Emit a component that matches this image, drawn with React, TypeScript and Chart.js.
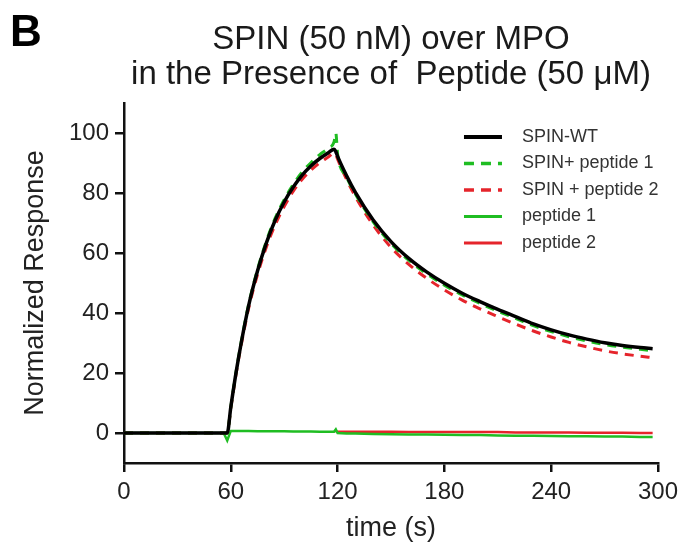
import React, { useEffect, useRef } from "react";
import { Chart, registerables } from "chart.js";

Chart.register(...registerables);

// ---------- data ----------
const timeS = [
  0, 10, 20, 30, 40, 50, 56, 58, 60, 63, 66, 70, 75, 80, 85, 90, 95, 100, 105, 110, 115, 118, 119, 120,
  125, 130, 140, 150, 160, 170, 180, 190, 200, 210, 220, 230, 240, 250, 260, 270, 280, 290, 297,
];

const spinWT = [
  0, 0, 0, 0, 0, 0, 0, 0, 8.6, 20.3, 30.5, 42.4, 54, 63.4, 71, 77, 81.9, 85.9, 89, 91.5, 93.5, 94.6, 93.8, 92.2,
  85.8, 80.2, 71, 63.8, 58.2, 53.7, 49.9, 46.6, 43.8, 41.2, 38.8, 36.4, 34.4, 32.7, 31.3, 30.1, 29.2, 28.5, 28.1,
];

const spinPeptide1 = [
  0, 0, 0, 0, 0, 0, 0, 0, 8.6, 20.5, 30.8, 42.8, 54.5, 64, 71.7, 77.8, 82.8, 86.9, 90.1, 92.8, 95, 97, 100, 93,
  85.4, 79.7, 70.4, 63.2, 57.6, 53.1, 49.3, 46, 43.2, 40.6, 38.2, 35.8, 33.8, 32.1, 30.7, 29.5, 28.6, 27.9, 27.4,
];

const spinPeptide2 = [
  0, 0, 0, 0, 0, 0, 0, 0, 8.2, 19.8, 29.8, 41.5, 52.8, 62, 69.5, 75.5, 80.5, 84.5, 87.6, 90.1, 92.1, 93.3, 92.8, 91.3,
  84.6, 78.8, 69.3, 61.9, 56.2, 51.6, 47.7, 44.3, 41.4, 38.8, 36.3, 34, 32, 30.2, 28.7, 27.4, 26.4, 25.6, 25.1,
];

const peptide1 = [
  0, 0, 0, 0, 0, 0, 0, -2.5, 0.7, 0.7, 0.7, 0.7, 0.6, 0.6, 0.6, 0.6, 0.5, 0.5, 0.5, 0.4, 0.4, 0.4, 1.2, 0,
  -0.2, -0.2, -0.3, -0.4, -0.5, -0.5, -0.6, -0.7, -0.7, -0.8, -0.9, -0.9, -1.0, -1.1, -1.1, -1.2, -1.2, -1.3, -1.3,
];

const peptide2 = [
  null, null, null, null, null, null, null, null, null, null, null, null, null, null, null, null, null, null, null, null, null, null, 0.6, 0.4,
  0.4, 0.4, 0.4, 0.4, 0.3, 0.3, 0.3, 0.3, 0.3, 0.3, 0.2, 0.2, 0.2, 0.2, 0.1, 0.1, 0.1, 0.0, 0.0,
];

const seriesLabels = ["SPIN-WT", "SPIN+ peptide 1", "SPIN + peptide 2", "peptide 1", "peptide 2"];
const xTickValues = [0, 60, 120, 180, 240, 300];
const yTickValues = [0, 20, 40, 60, 80, 100];
const titleLines = ["SPIN (50 nM) over MPO", "in the Presence of  Peptide (50 \u03bcM)"];
const panelLabel = "B";
const xAxisTitle = "time (s)";
const yAxisTitle = "Normalized Response";

// ---------- styling ----------
const W = 684;
const H = 547;
const FONT = "'Liberation Sans', Arial, Helvetica, sans-serif";
const BLACK = "#000000";
const GREEN = "#1fbd22";
const RED = "#e5242b";

const toPoints = (vals: (number | null)[]) => timeS.map((t, i) => ({ x: t, y: vals[i] }));

const overlayPlugin = {
  id: "overlay",
  afterDraw(chart: any) {
    const ctx: CanvasRenderingContext2D = chart.ctx;
    const area = chart.chartArea;
    ctx.save();
    // panel letter
    ctx.fillStyle = "#000";
    ctx.font = `bold 44px ${FONT}`;
    ctx.textAlign = "left";
    ctx.textBaseline = "alphabetic";
    ctx.fillText(panelLabel, 10, 46);
    // title
    ctx.fillStyle = "#1a1a1a";
    ctx.font = `33px ${FONT}`;
    ctx.textAlign = "center";
    ctx.textBaseline = "middle";
    const cx = (area.left + area.right) / 2;
    titleLines.forEach((t, i) => ctx.fillText(t, cx, 40 + i * 35));
    // legend
    const lx0 = area.right - 194;
    const lx1 = area.right - 156;
    const tx = area.right - 136;
    chart.data.datasets.forEach((ds: any, i: number) => {
      const y = area.top + 34 + i * 26.5;
      ctx.beginPath();
      ctx.strokeStyle = ds.borderColor;
      ctx.lineWidth = ds.borderWidth + 0.5;
      ctx.setLineDash(ds.borderDash && ds.borderDash.length ? [10, 7] : []);
      ctx.moveTo(lx0, y);
      ctx.lineTo(lx1, y);
      ctx.stroke();
      ctx.setLineDash([]);
      ctx.fillStyle = "#333";
      ctx.font = `18px ${FONT}`;
      ctx.textAlign = "left";
      ctx.textBaseline = "middle";
      ctx.fillText(ds.label, tx, y);
    });
    ctx.restore();
  },
};

export default function App() {
  const canvasRef = useRef<HTMLCanvasElement | null>(null);

  useEffect(() => {
    if (!canvasRef.current) return;
    const axisColor = "#111";
    const chart = new Chart(canvasRef.current, {
      type: "line",
      data: {
        datasets: [
          {
            label: seriesLabels[0],
            data: toPoints(spinWT),
            borderColor: BLACK,
            borderWidth: 3.5,
            pointRadius: 0,
            cubicInterpolationMode: "monotone",
          },
          {
            label: seriesLabels[1],
            data: toPoints(spinPeptide1),
            borderColor: GREEN,
            borderWidth: 3,
            borderDash: [9, 7],
            pointRadius: 0,
            cubicInterpolationMode: "monotone",
          },
          {
            label: seriesLabels[2],
            data: toPoints(spinPeptide2),
            borderColor: RED,
            borderWidth: 3,
            borderDash: [9, 7],
            pointRadius: 0,
            cubicInterpolationMode: "monotone",
          },
          {
            label: seriesLabels[3],
            data: toPoints(peptide1),
            borderColor: GREEN,
            borderWidth: 2.5,
            pointRadius: 0,
          },
          {
            label: seriesLabels[4],
            data: toPoints(peptide2),
            borderColor: RED,
            borderWidth: 2.5,
            pointRadius: 0,
            spanGaps: false,
          },
        ] as any,
      },
      options: {
        responsive: false,
        animation: false,
        devicePixelRatio: 1,
        layout: { padding: { top: 103, right: 24, left: 0, bottom: 0 } },
        plugins: {
          legend: { display: false },
          title: { display: false },
          tooltip: { enabled: false },
        },
        scales: {
          x: {
            type: "linear",
            min: 0,
            max: 300,
            afterBuildTicks: (scale: any) => {
              scale.ticks = xTickValues.map((v) => ({ value: v }));
            },
            afterFit: (scale: any) => {
              scale.height = H - 463;
            },
            grid: {
              display: true,
              drawOnChartArea: false,
              drawTicks: true,
              tickLength: 9,
              color: axisColor,
              lineWidth: 2.5,
            },
            border: { display: true, color: axisColor, width: 2.5 },
            ticks: {
              color: "#222",
              font: { family: FONT, size: 24 },
              padding: 6,
              maxRotation: 0,
              autoSkip: false,
            },
            title: {
              display: true,
              text: xAxisTitle,
              color: "#222",
              font: { family: FONT, size: 27 },
              padding: { top: 0, bottom: 2 },
            },
          },
          y: {
            type: "linear",
            min: -10,
            max: 110,
            afterBuildTicks: (scale: any) => {
              scale.ticks = yTickValues.map((v) => ({ value: v }));
            },
            afterFit: (scale: any) => {
              scale.width = 124;
            },
            grid: {
              display: true,
              drawOnChartArea: false,
              drawTicks: true,
              tickLength: 9,
              color: axisColor,
              lineWidth: 2.5,
            },
            border: { display: true, color: axisColor, width: 2.5 },
            ticks: {
              color: "#222",
              font: { family: FONT, size: 24 },
              padding: 6,
              autoSkip: false,
            },
            title: {
              display: true,
              text: yAxisTitle,
              color: "#222",
              font: { family: FONT, size: 27 },
              padding: { top: 19, bottom: 0 },
            },
          },
        },
      } as any,
      plugins: [overlayPlugin],
    });
    return () => chart.destroy();
  }, []);

  return (
    <div style={{ position: "absolute", left: 0, top: 0, width: W, height: H, background: "#fff" }}>
      <canvas ref={canvasRef} width={W} height={H} />
    </div>
  );
}
